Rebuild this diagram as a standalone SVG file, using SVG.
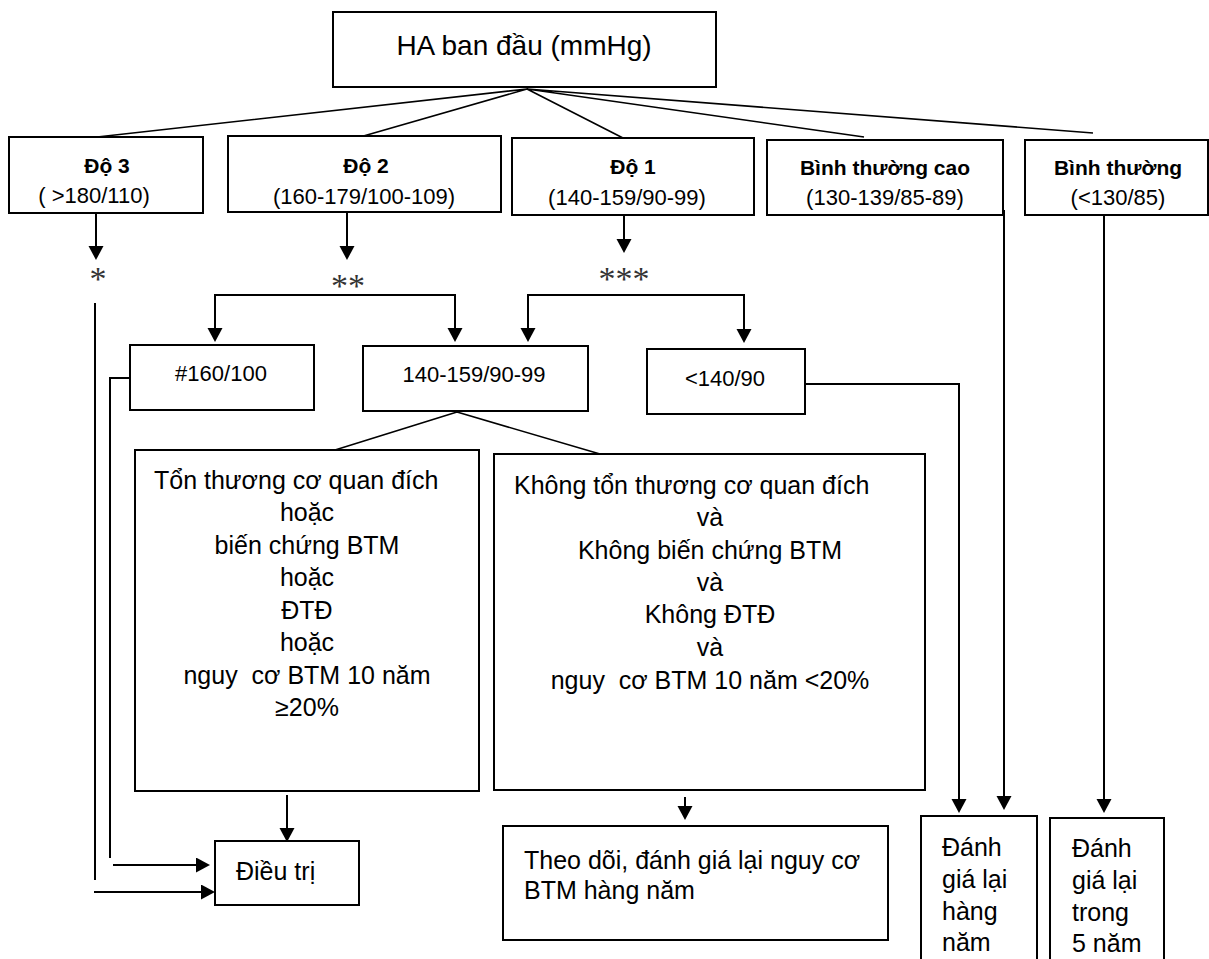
<svg xmlns="http://www.w3.org/2000/svg" width="1209" height="959" viewBox="0 0 1209 959">
<style>
.box{fill:#fff;stroke:#000;stroke-width:2}
.ln{stroke:#000;stroke-width:1.6;fill:none}
.ar{stroke:#000;stroke-width:2;fill:none}
.ah{marker-end:url(#ah)}
text{font-family:"Liberation Sans",Arial,Helvetica,sans-serif;fill:#000}
.t28{font-size:28px}
.hd{font-size:21px;font-weight:bold}
.rg{font-size:22px}
.md{font-size:22px}
.bd{font-size:25px}
.st{font-family:"Liberation Serif","Times New Roman",serif;font-size:34px;fill:#333}
.c{text-anchor:middle}
</style>
<defs>
<marker id="ah" markerUnits="userSpaceOnUse" markerWidth="16" markerHeight="16" refX="12" refY="7.5" orient="auto">
<path d="M0,0 L14,7.5 L0,15 z" fill="#000"/>
</marker>
</defs>
<rect width="1209" height="959" fill="#fff"/>
<g id="connectors">
<path class="ln" d="M527,89 L97,137 M527,89 L360,137 M527,89 L623,138 M527,89 L864,137 M527,89 L1093,133"/>
<path class="ar ah" d="M96,213 V258"/>
<path class="ar ah" d="M347,212 V258"/>
<path class="ar ah" d="M624,197 V251"/>
<path class="ar ah" d="M335,295 H215 V340"/>
<path class="ar ah" d="M335,295 H455 V340"/>
<path class="ar ah" d="M640,295 H528 V340"/>
<path class="ar ah" d="M640,295 H744 V341"/>
<path class="ar" d="M95,303 V880"/>
<path class="ar ah" d="M94,892 H213"/>
<path class="ar" d="M130,378 H110 V858"/>
<path class="ar ah" d="M113,865 H208"/>
<path class="ar ah" d="M287,795 V840"/>
<path class="ln" d="M457,412 L335,450 M457,412 L600,454"/>
<path class="ar ah" d="M685,797 V818"/>
<path class="ar ah" d="M793,384 H959 V811"/>
<path class="ar ah" d="M1004,210 V808"/>
<path class="ar ah" d="M1104,215 V811"/>
</g>
<g id="n-top"><rect class="box" x="333" y="12" width="383" height="75"/><text class="t28 c" x="524" y="55">HA ban đầu (mmHg)</text></g>
<g id="n-do3"><rect class="box" x="9" y="137" width="194" height="76"/><text class="hd c" x="107" y="173">Độ 3</text><text class="rg c" x="94" y="203">( &gt;180/110)</text></g>
<g id="n-do2"><rect class="box" x="228" y="136" width="273" height="76"/><text class="hd c" x="366" y="173">Độ 2</text><text class="rg c" x="364" y="204">(160-179/100-109)</text></g>
<g id="n-do1"><rect class="box" x="512" y="138" width="242" height="77"/><text class="hd c" x="633" y="174">Độ 1</text><text class="rg c" x="627" y="205">(140-159/90-99)</text></g>
<g id="n-btc"><rect class="box" x="767" y="140" width="236" height="75"/><text class="hd c" x="885" y="175">Bình thường cao</text><text class="rg c" x="885" y="205">(130-139/85-89)</text></g>
<g id="n-bt"><rect class="box" x="1025" y="140" width="183" height="75"/><text class="hd c" x="1118" y="175">Bình thường</text><text class="rg c" x="1118" y="205">(&lt;130/85)</text></g>
<g id="s1"><text class="st c" x="98" y="290">*</text></g>
<g id="s2"><text class="st c" x="348" y="297">**</text></g>
<g id="s3"><text class="st c" x="624" y="290">***</text></g>
<g id="n-160"><rect class="box" x="130" y="345" width="184" height="65"/><text class="md c" x="221" y="381">#160/100</text></g>
<g id="n-140"><rect class="box" x="363" y="346" width="225" height="65"/><text class="md c" x="474" y="382">140-159/90-99</text></g>
<g id="n-lt140"><rect class="box" x="647" y="349" width="158" height="65"/><text class="md c" x="725" y="386">&lt;140/90</text></g>
<g id="n-ton"><rect class="box" x="135" y="450" width="344" height="341"/>
<text class="bd" x="154" y="489">Tổn thương cơ quan đích</text>
<text class="bd c" x="307" y="521">hoặc</text>
<text class="bd c" x="307" y="554">biến chứng BTM</text>
<text class="bd c" x="307" y="586">hoặc</text>
<text class="bd c" x="307" y="619">ĐTĐ</text>
<text class="bd c" x="307" y="651">hoặc</text>
<text class="bd c" x="307" y="684" xml:space="preserve">nguy  cơ BTM 10 năm</text>
<text class="bd c" x="307" y="716">≥20%</text>
</g>
<g id="n-khong"><rect class="box" x="494" y="454" width="431" height="336"/>
<text class="bd" x="514" y="494">Không tổn thương cơ quan đích</text>
<text class="bd c" x="710" y="526">và</text>
<text class="bd c" x="710" y="559">Không biến chứng BTM</text>
<text class="bd c" x="710" y="591">và</text>
<text class="bd c" x="710" y="623">Không ĐTĐ</text>
<text class="bd c" x="710" y="656">và</text>
<text class="bd c" x="710" y="689" xml:space="preserve">nguy  cơ BTM 10 năm &lt;20%</text>
</g>
<g id="n-dieutri"><rect class="box" x="215" y="841" width="144" height="64"/><text class="bd" x="236" y="880">Điều trị</text></g>
<g id="n-theodoi"><rect class="box" x="503" y="826" width="385" height="114"/><text class="bd" x="524" y="869">Theo dõi, đánh giá lại nguy cơ</text><text class="bd" x="524" y="899">BTM hàng năm</text></g>
<g id="n-dg1"><rect class="box" x="921" y="816" width="116" height="160"/><text class="bd" x="942" y="856">Đánh</text><text class="bd" x="942" y="888">giá lại</text><text class="bd" x="942" y="920">hàng</text><text class="bd" x="942" y="951">năm</text></g>
<g id="n-dg5"><rect class="box" x="1050" y="818" width="114" height="160"/><text class="bd" x="1072" y="857">Đánh</text><text class="bd" x="1072" y="889">giá lại</text><text class="bd" x="1072" y="921">trong</text><text class="bd" x="1072" y="952">5 năm</text></g>
</svg>
